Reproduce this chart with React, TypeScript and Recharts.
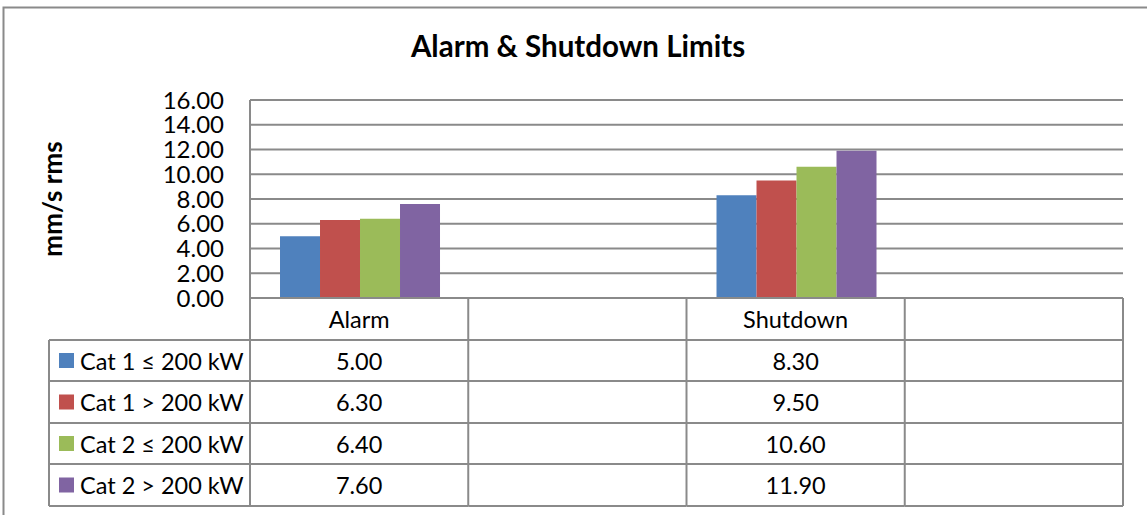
import React from 'react';
import { BarChart, Bar, XAxis, YAxis, CartesianGrid, Customized } from 'recharts';

const categories = ['Alarm', '', 'Shutdown', ''];
const seriesNames = ['Cat 1 ≤ 200 kW', 'Cat 1 > 200 kW', 'Cat 2 ≤ 200 kW', 'Cat 2 > 200 kW'];
const cat1Low = [5.0, null, 8.3, null];
const cat1High = [6.3, null, 9.5, null];
const cat2Low = [6.4, null, 10.6, null];
const cat2High = [7.6, null, 11.9, null];
const yTicks = [0, 2, 4, 6, 8, 10, 12, 14, 16];

const seriesValues = [cat1Low, cat1High, cat2Low, cat2High];
const colors = ['#4F81BD', '#C0504D', '#9BBB59', '#8064A2'];
const keys = ['s0', 's1', 's2', 's3'];

const data = categories.map((name, i) => ({
  idx: i,
  name,
  s0: cat1Low[i],
  s1: cat1High[i],
  s2: cat2Low[i],
  s3: cat2High[i]
}));

const W = 1147;
const H = 515;
const PLOT_LEFT = 250;
const PLOT_RIGHT = 1123;
const PLOT_TOP = 100;
const AXIS_Y = 298;
const LEGEND_LEFT = 49;
const ROWS = [298, 340, 381, 423, 464, 506];
const LINE = '#8a8a8a';
const FONT = 'Lato, "Open Sans", sans-serif';
const TABLE_FS = 23.5;
const BAND = (PLOT_RIGHT - PLOT_LEFT) / categories.length;

function TableColumn(props: any) {
  const { x, payload } = props;
  const i = payload.index;
  const left = x - BAND / 2;
  const right = x + BAND / 2;
  const texts = [categories[i], ...seriesValues.map((s) => (s[i] == null ? '' : (s[i] as number).toFixed(2)))];
  return (
    <g>
      {ROWS.slice(1).map((ry) => (
        <line key={ry} x1={left} x2={right} y1={ry} y2={ry} stroke={LINE} strokeWidth={2} />
      ))}
      <line x1={right} x2={right} y1={AXIS_Y} y2={ROWS[5]} stroke={LINE} strokeWidth={2} />
      {texts.map((t, r) => (
        <text
          key={r}
          x={x}
          y={(ROWS[r] + ROWS[r + 1]) / 2}
          textAnchor="middle"
          dominantBaseline="central"
          fontFamily={FONT}
          fontSize={TABLE_FS}
          fill="#000"
        >
          {t}
        </text>
      ))}
      {i === 0 && (
        <g>
          <line x1={left} x2={left} y1={AXIS_Y} y2={ROWS[5]} stroke={LINE} strokeWidth={2} />
          <line x1={LEGEND_LEFT} x2={LEGEND_LEFT} y1={ROWS[1]} y2={ROWS[5]} stroke={LINE} strokeWidth={2} />
          {ROWS.slice(1).map((ry) => (
            <line key={ry} x1={LEGEND_LEFT} x2={left} y1={ry} y2={ry} stroke={LINE} strokeWidth={2} />
          ))}
          {seriesNames.map((n, r) => {
            const cy = (ROWS[r + 1] + ROWS[r + 2]) / 2;
            return (
              <g key={n}>
                <rect x={59} y={cy - 7.5} width={15} height={15} fill={colors[r]} />
                <text x={80} y={cy} dominantBaseline="central" fontFamily={FONT} fontSize={TABLE_FS} fill="#000">
                  {n}
                </text>
              </g>
            );
          })}
        </g>
      )}
    </g>
  );
}

function Frame() {
  return (
    <g>
      <path d={`M3.5 ${H + 5} L3.5 7.5 L${W + 5} 7.5`} fill="none" stroke={LINE} strokeWidth={2} />
      <text x={578} y={57} textAnchor="middle" fontFamily={FONT} fontWeight="bold" fontSize={29.5} fill="#000">
        Alarm &amp; Shutdown Limits
      </text>
      <text
        x={52}
        y={199}
        textAnchor="middle"
        dominantBaseline="central"
        transform="rotate(-90 52 199)"
        fontFamily={FONT}
        fontWeight="bold"
        fontSize={26}
        fill="#000"
      >
        mm/s rms
      </text>
    </g>
  );
}

export default function App() {
  return (
    <div style={{ position: 'absolute', left: 0, top: 0, background: '#fff' }}>
      <BarChart
        width={W}
        height={H}
        data={data}
        margin={{ top: PLOT_TOP, right: W - PLOT_RIGHT, left: 0, bottom: 9 }}
        barGap={0}
        barCategoryGap="13.75%"
      >
        <CartesianGrid vertical={false} stroke={LINE} strokeWidth={2} />
        <XAxis
          dataKey="idx"
          type="category"
          height={H - AXIS_Y - 9}
          axisLine={{ stroke: LINE, strokeWidth: 2 }}
          tickLine={false}
          tickSize={0}
          tick={<TableColumn />}
          interval={0}
        />
        <YAxis
          width={PLOT_LEFT}
          domain={[0, 16]}
          ticks={yTicks}
          interval={0}
          tickFormatter={(v: number) => v.toFixed(2)}
          axisLine={{ stroke: LINE, strokeWidth: 2 }}
          tickLine={false}
          tickSize={0}
          tickMargin={26}
          tick={{ fill: '#000', fontFamily: FONT, fontSize: 24 }}
        />
        {keys.map((k, i) => (
          <Bar key={k} dataKey={k} fill={colors[i]} isAnimationActive={false} />
        ))}
        <Customized component={<Frame />} />
      </BarChart>
    </div>
  );
}
